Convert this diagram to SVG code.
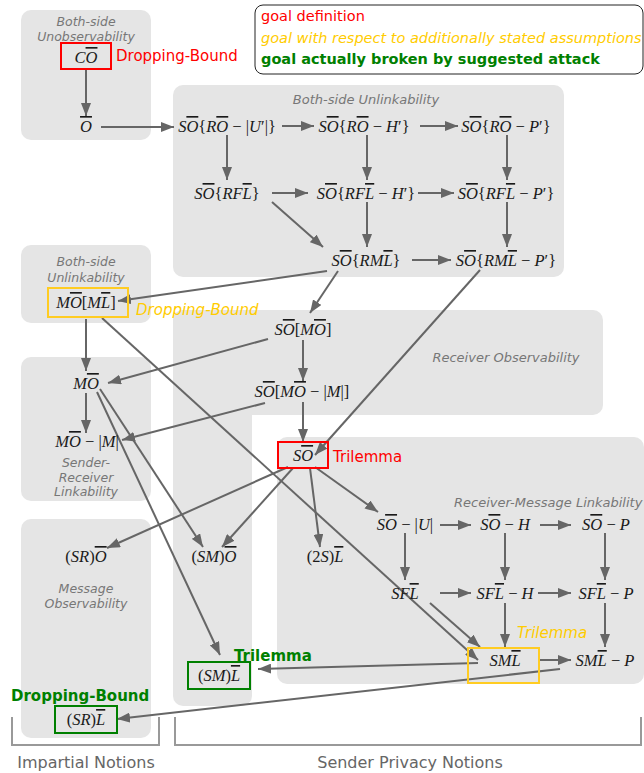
<svg xmlns="http://www.w3.org/2000/svg" width="644" height="773" viewBox="0 0 644 773">
<style>
.p{fill:#e5e5e5}
.pl{font-family:"DejaVu Sans",sans-serif;font-style:italic;font-size:12.5px;fill:#777;text-anchor:middle}
.pl.w{font-size:13px}
.m{font-family:"Liberation Serif",serif;font-style:italic;font-size:16.5px;fill:#1a1a1a;text-anchor:middle}
.u{font-style:normal}
.o{text-decoration:overline}
.c line{stroke:#666;stroke-width:2;marker-end:url(#ah)}
.br{fill:none;stroke:#999;stroke-width:2}
.bt{font-family:"DejaVu Sans",sans-serif;font-size:16px;fill:#666;text-anchor:middle}
.red{fill:#ff0000}.yel{fill:#ffcc00;font-style:italic}.grn{fill:#008000;font-weight:bold}
.lab{font-family:"DejaVu Sans",sans-serif;font-size:15px}
.lg{font-size:14.5px}
.bx{fill:none;stroke-width:2}
</style>
<defs>
<marker id="ah" markerUnits="userSpaceOnUse" markerWidth="13" markerHeight="10" refX="13" refY="5" orient="auto">
<path d="M0,0 L13,5 L0,10 z" fill="#666"/>
</marker>
</defs>

<g id="panels">
<rect class="p" x="21" y="10" width="130" height="130" rx="10"/>
<rect class="p" x="173" y="85" width="391" height="192" rx="10"/>
<rect class="p" x="21" y="245" width="130" height="78" rx="10"/>
<rect class="p" x="173" y="310" width="430" height="105" rx="10"/>
<rect class="p" x="173" y="310" width="79" height="396" rx="10"/>
<rect class="p" x="21" y="357" width="130" height="144" rx="10"/>
<rect class="p" x="21" y="519" width="130" height="219" rx="10"/>
<rect class="p" x="277" y="437" width="367" height="247" rx="10"/>
<text class="pl" x="86" y="26">Both-side</text>
<text class="pl" x="86" y="40.5">Unobservability</text>
<text class="pl" x="86" y="266">Both-side</text>
<text class="pl" x="86" y="282">Unlinkability</text>
<text class="pl w" x="366" y="104">Both-side Unlinkability</text>
<text class="pl w" x="506" y="362">Receiver Observability</text>
<text class="pl" x="86" y="467">Sender-</text>
<text class="pl" x="86" y="481.5">Receiver</text>
<text class="pl" x="86" y="496">Linkability</text>
<text class="pl" x="86" y="593">Message</text>
<text class="pl" x="86" y="607.5">Observability</text>
<text class="pl w" x="454" y="507" style="text-anchor:start">Receiver-Message Linkability</text>
</g>

<g id="legend">
<rect x="255" y="5" width="388" height="69" rx="8" fill="#fff" stroke="#222" stroke-width="1"/>
<text class="lab lg red" x="261" y="21">goal definition</text>
<text class="lab lg yel" x="261" y="43">goal with respect to additionally stated assumptions</text>
<text class="lab lg grn" x="261" y="64">goal actually broken by suggested attack</text>
</g>

<g class="c" id="connectors">
<line x1="86" y1="70" x2="86" y2="116"/>
<line x1="101" y1="127" x2="174" y2="127"/>
<line x1="282" y1="126" x2="314" y2="126"/>
<line x1="420" y1="126" x2="458" y2="126"/>
<line x1="227" y1="135" x2="227" y2="180"/>
<line x1="367" y1="135" x2="367" y2="180"/>
<line x1="507" y1="135" x2="507" y2="180"/>
<line x1="272" y1="193" x2="308" y2="193"/>
<line x1="418" y1="193" x2="454" y2="193"/>
<line x1="367" y1="202" x2="367" y2="247"/>
<line x1="507" y1="202" x2="507" y2="247"/>
<line x1="272" y1="202" x2="323" y2="247"/>
<line x1="412" y1="260" x2="451" y2="260"/>
<line x1="327" y1="271" x2="118" y2="301"/>
<line x1="338" y1="271" x2="310" y2="313"/>
<line x1="480" y1="270" x2="315" y2="455"/>
<line x1="86" y1="319" x2="86" y2="371"/>
<line x1="102" y1="318" x2="478" y2="660"/>
<line x1="268" y1="339" x2="108" y2="383"/>
<line x1="303" y1="340" x2="303" y2="381"/>
<line x1="265" y1="403" x2="122" y2="440"/>
<line x1="303" y1="402" x2="303" y2="442"/>
<line x1="86" y1="393" x2="86" y2="433"/>
<line x1="100" y1="389" x2="203" y2="547"/>
<line x1="97" y1="392" x2="220" y2="655"/>
<line x1="293" y1="468" x2="222" y2="547"/>
<line x1="288" y1="467" x2="107" y2="548"/>
<line x1="310" y1="468" x2="320" y2="547"/>
<line x1="315" y1="467" x2="378" y2="512"/>
<line x1="440" y1="525" x2="471" y2="525"/>
<line x1="540" y1="525" x2="571" y2="525"/>
<line x1="405" y1="533" x2="405" y2="580"/>
<line x1="505" y1="533" x2="505" y2="580"/>
<line x1="605" y1="533" x2="605" y2="580"/>
<line x1="440" y1="593" x2="471" y2="593"/>
<line x1="538" y1="593" x2="571" y2="593"/>
<line x1="505" y1="603" x2="505" y2="647"/>
<line x1="605" y1="603" x2="605" y2="647"/>
<line x1="430" y1="603" x2="480" y2="647"/>
<line x1="540" y1="660" x2="571" y2="660"/>
<line x1="478" y1="663" x2="258" y2="669"/>
<line x1="560" y1="669" x2="117" y2="719"/>
</g>

<g id="n-CO"><rect class="bx" x="61" y="43" width="50" height="26" stroke="#ff0000"/><text class="m" x="86" y="63">C<tspan class="o">O</tspan></text><text class="lab red" x="116" y="61">Dropping-Bound</text></g>
<g id="n-O"><text class="m" x="86" y="132"><tspan class="o">O</tspan></text></g>
<g id="n-SO-RO-U"><text class="m" x="227" y="132">S<tspan class="o">O</tspan><tspan class="u">{</tspan>R<tspan class="o">O</tspan><tspan class="u"> − |</tspan>U<tspan class="u">′|}</tspan></text></g>
<g id="n-SO-RO-H"><text class="m" x="364" y="132">S<tspan class="o">O</tspan><tspan class="u">{</tspan>R<tspan class="o">O</tspan><tspan class="u"> − </tspan>H<tspan class="u">′}</tspan></text></g>
<g id="n-SO-RO-P"><text class="m" x="506" y="132">S<tspan class="o">O</tspan><tspan class="u">{</tspan>R<tspan class="o">O</tspan><tspan class="u"> − </tspan>P<tspan class="u">′}</tspan></text></g>
<g id="n-SO-RFL"><text class="m" x="227" y="199">S<tspan class="o">O</tspan><tspan class="u">{</tspan>RF<tspan class="o">L</tspan><tspan class="u">}</tspan></text></g>
<g id="n-SO-RFL-H"><text class="m" x="366" y="199">S<tspan class="o">O</tspan><tspan class="u">{</tspan>RF<tspan class="o">L</tspan><tspan class="u"> − </tspan>H<tspan class="u">′}</tspan></text></g>
<g id="n-SO-RFL-P"><text class="m" x="506" y="199">S<tspan class="o">O</tspan><tspan class="u">{</tspan>RF<tspan class="o">L</tspan><tspan class="u"> − </tspan>P<tspan class="u">′}</tspan></text></g>
<g id="n-SO-RML"><text class="m" x="366" y="266">S<tspan class="o">O</tspan><tspan class="u">{</tspan>RM<tspan class="o">L</tspan><tspan class="u">}</tspan></text></g>
<g id="n-SO-RML-P"><text class="m" x="506" y="266">S<tspan class="o">O</tspan><tspan class="u">{</tspan>RM<tspan class="o">L</tspan><tspan class="u"> − </tspan>P<tspan class="u">′}</tspan></text></g>
<g id="n-MO-ML"><rect class="bx" x="48" y="288" width="80" height="29" stroke="#ffcc22"/><text class="m" x="86" y="308">M<tspan class="o">O</tspan><tspan class="u">[</tspan>M<tspan class="o">L</tspan><tspan class="u">]</tspan></text><text class="lab yel" x="136" y="315">Dropping-Bound</text></g>
<g id="n-SO-MO"><text class="m" x="303" y="335">S<tspan class="o">O</tspan><tspan class="u">[</tspan>M<tspan class="o">O</tspan><tspan class="u">]</tspan></text></g>
<g id="n-SO-MO-M"><text class="m" x="302" y="397">S<tspan class="o">O</tspan><tspan class="u">[</tspan>M<tspan class="o">O</tspan><tspan class="u"> − |</tspan>M<tspan class="u">|]</tspan></text></g>
<g id="n-MO"><text class="m" x="86" y="389">M<tspan class="o">O</tspan></text></g>
<g id="n-MO-M"><text class="m" x="87" y="447">M<tspan class="o">O</tspan><tspan class="u"> − |</tspan>M<tspan class="u">|</tspan></text></g>
<g id="n-SO"><rect class="bx" x="278" y="442" width="50" height="26" stroke="#ff0000"/><text class="m" x="303" y="461">S<tspan class="o">O</tspan></text><text class="lab red" x="333" y="462">Trilemma</text></g>
<g id="n-SO-U"><text class="m" x="405" y="530">S<tspan class="o">O</tspan><tspan class="u"> − |</tspan>U<tspan class="u">|</tspan></text></g>
<g id="n-SO-H"><text class="m" x="505" y="530">S<tspan class="o">O</tspan><tspan class="u"> − </tspan>H</text></g>
<g id="n-SO-P"><text class="m" x="606" y="530">S<tspan class="o">O</tspan><tspan class="u"> − </tspan>P</text></g>
<g id="n-2SL"><text class="m" x="325" y="562"><tspan class="u">(2</tspan>S<tspan class="u">)</tspan><tspan class="o">L</tspan></text></g>
<g id="n-SFL"><text class="m" x="405" y="599">SF<tspan class="o">L</tspan></text></g>
<g id="n-SFL-H"><text class="m" x="505" y="599">SF<tspan class="o">L</tspan><tspan class="u"> − </tspan>H</text></g>
<g id="n-SFL-P"><text class="m" x="606" y="599">SF<tspan class="o">L</tspan><tspan class="u"> − </tspan>P</text></g>
<g id="n-SML"><rect class="bx" x="468" y="648" width="71" height="35" stroke="#ffcc22"/><text class="m" x="505" y="666">SM<tspan class="o">L</tspan></text><text class="lab yel" x="517" y="638">Trilemma</text></g>
<g id="n-SML-P"><text class="m" x="605" y="666">SM<tspan class="o">L</tspan><tspan class="u"> − </tspan>P</text></g>
<g id="n-SRO"><text class="m" x="86" y="562"><tspan class="u">(</tspan>SR<tspan class="u">)</tspan><tspan class="o">O</tspan></text></g>
<g id="n-SMO"><text class="m" x="214" y="562"><tspan class="u">(</tspan>SM<tspan class="u">)</tspan><tspan class="o">O</tspan></text></g>
<g id="n-SML2"><rect class="bx" x="188" y="662" width="62" height="27" stroke="#008000"/><text class="m" x="219" y="681"><tspan class="u">(</tspan>SM<tspan class="u">)</tspan><tspan class="o">L</tspan></text><text class="lab grn" x="234" y="661">Trilemma</text></g>
<g id="n-SRL"><rect class="bx" x="55" y="706" width="62" height="27" stroke="#008000"/><text class="m" x="86" y="725"><tspan class="u">(</tspan>SR<tspan class="u">)</tspan><tspan class="o">L</tspan></text><text class="lab grn" x="11" y="701">Dropping-Bound</text></g>

<g id="brackets">
<path class="br" d="M12,717 V745 H159 V717"/>
<path class="br" d="M175,717 V745 H641 V717"/>
<text class="bt" x="86" y="768">Impartial Notions</text>
<text class="bt" x="410" y="768">Sender Privacy Notions</text>
</g>
</svg>
